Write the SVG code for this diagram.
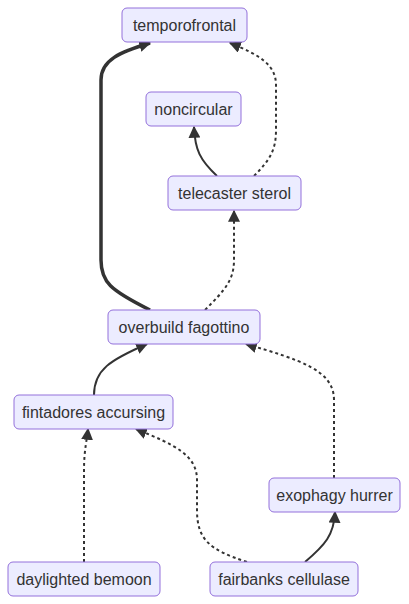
<svg xmlns="http://www.w3.org/2000/svg" width="409" height="604" viewBox="0 0 409 604">
<style>
.node rect{fill:#ECECFF;stroke:#9370DB;stroke-width:1px}
.node text{font-family:"Liberation Sans",Arial,sans-serif;font-size:16px;fill:#333;text-anchor:middle;dominant-baseline:central}
.e{fill:none;stroke:#333;stroke-width:2px}
.thick{stroke-width:3.5px}
.dot{stroke-dasharray:3 3}
</style>
<defs>
<marker id="pt" viewBox="0 0 10 10" refX="9" refY="5" markerUnits="userSpaceOnUse" markerWidth="12" markerHeight="12" orient="auto">
<path d="M0,0 L10,5 L0,10 z" fill="#333"/>
</marker>
</defs>
<rect width="409" height="604" fill="#fff"/>
<g id="connectors">
<path class="e thick" d="M150,310 C110,290 101,282 101,260 L101,80 C101,60 120,52 150,43" marker-end="url(#pt)"/>
<path class="e dot" d="M254,176 C270,160 276,150 276,130 L276,85 C276,65 260,55 230,43" marker-end="url(#pt)"/>
<path class="e" d="M217,176 C200,160 195,150 194,127" marker-end="url(#pt)"/>
<path class="e dot" d="M205,310 C225,290 234,280 234,260 L234,211" marker-end="url(#pt)"/>
<path class="e" d="M94,395 C94,370 110,360 147,344" marker-end="url(#pt)"/>
<path class="e dot" d="M334,478 L334,400 C334,370 300,360 246,344" marker-end="url(#pt)"/>
<path class="e dot" d="M247,562 C210,550 197,540 197,510 L197,480 C197,455 175,445 136,429" marker-end="url(#pt)"/>
<path class="e dot" d="M84,562 L84,470 C84,450 87,440 88,429" marker-end="url(#pt)"/>
<path class="e" d="M305,562 C325,545 334,535 335,512" marker-end="url(#pt)"/>
</g>
<g id="temporofrontal" class="node"><rect x="122" y="8" width="125" height="34" rx="5"/><text x="184.5" y="25">temporofrontal</text></g>
<g id="noncircular" class="node"><rect x="146" y="92" width="95" height="34" rx="5"/><text x="193.5" y="109">noncircular</text></g>
<g id="telecaster_sterol" class="node"><rect x="168" y="176" width="133" height="34" rx="5"/><text x="234.5" y="193">telecaster sterol</text></g>
<g id="overbuild_fagottino" class="node"><rect x="108" y="310" width="152" height="34" rx="5"/><text x="184" y="327">overbuild fagottino</text></g>
<g id="fintadores_accursing" class="node"><rect x="14" y="395" width="159" height="34" rx="5"/><text x="93.5" y="412">fintadores accursing</text></g>
<g id="exophagy_hurrer" class="node"><rect x="269" y="478" width="131" height="34" rx="5"/><text x="334.5" y="495">exophagy hurrer</text></g>
<g id="daylighted_bemoon" class="node"><rect x="8" y="562" width="152" height="34" rx="5"/><text x="84" y="579">daylighted bemoon</text></g>
<g id="fairbanks_cellulase" class="node"><rect x="210" y="562" width="148" height="34" rx="5"/><text x="284" y="579">fairbanks cellulase</text></g>
</svg>
